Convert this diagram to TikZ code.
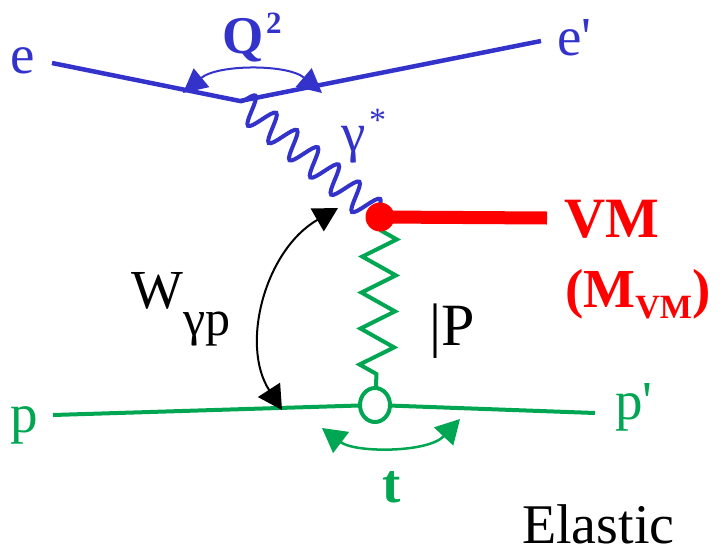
\documentclass[tikz,border=0pt]{standalone}
\usepackage{fontspec}
\newfontfamily\tm{Liberation Serif}
\usetikzlibrary{arrows.meta,decorations.pathmorphing}
\definecolor{eblue}{RGB}{51,51,204}
\definecolor{pgreen}{RGB}{0,166,81}
\definecolor{vmred}{RGB}{255,0,0}
\begin{document}
\begin{tikzpicture}[x=1pt,y=-1pt,
  lbl/.style={inner sep=0pt, anchor=base west, font=\tm\fontsize{55}{60}\selectfont},
  bld/.style={inner sep=0pt, anchor=base west, font=\tm\bfseries\fontsize{55}{60}\selectfont},
  sml/.style={inner sep=0pt, anchor=base west, font=\tm\bfseries\fontsize{31}{34}\selectfont},
  eline/.style={eblue, line width=4.5pt},
  pline/.style={pgreen, line width=4pt},
  bluearc/.style={eblue, line width=2pt, {Triangle[length=24pt,width=24pt]}-{Triangle[length=24pt,width=24pt]}},
  blackarc/.style={black, line width=2pt, {Triangle[length=24pt,width=26pt]}-{Triangle[length=24pt,width=26pt]}},
  greenarc/.style={pgreen, line width=2.5pt, {Triangle[length=24pt,width=26pt]}-{Triangle[length=24pt,width=26pt]}}]
\useasboundingbox (0,0) rectangle (727,554);
% vertices and ends
\coordinate (eA) at (52,63);
\coordinate (v1) at (240,101);
\coordinate (eB) at (541,41);
\coordinate (v2) at (380,217);
\coordinate (vmE) at (547,218);
\coordinate (v3) at (375,405);
\coordinate (pA) at (53,415);
\coordinate (pB) at (595,413);
\coordinate (zTop) at (380,230);
\coordinate (zBot) at (376,389);
% arc ends
\coordinate (qL) at (183,93);
\coordinate (qR) at (322,93);
\coordinate (wT) at (338,208);
\coordinate (wB) at (282,410);
\coordinate (tL) at (322,428);
\coordinate (tR) at (460,419);

% electron lines
\draw[eline] (eA) -- (v1) -- (eB);
% photon
\draw[eblue, line width=4pt, decorate, decoration={snake, segment length=27pt, amplitude=14pt}] (v1) -- (v2);
% proton line
\draw[pline] (pA) -- (v3) -- (pB);
% pomeron
\draw[pgreen, line width=4pt, decorate, decoration={zigzag, segment length=36pt, amplitude=17pt}] (zTop) -- (zBot);
\draw[pgreen, line width=4pt, fill=white] (v3) ellipse [x radius=15, y radius=17];
% vector meson
\draw[vmred, line width=13pt] (v2) -- (vmE);
\fill[vmred] (v2) circle [radius=14.5];

% arcs
\draw[bluearc] (qL) .. controls (218,64) and (288,64) .. (qR);
\draw[blackarc] (wT) .. controls (265,250) and (240,345) .. (wB);
\draw[greenarc] (tL) .. controls (355,453) and (428,453) .. (tR);

% labels
\node[lbl, eblue] (le) at (10,73) {e};
\node[lbl, eblue] (leprime) at (557,55) {e'};
\node[bld, eblue, font=\tm\bfseries\fontsize{53}{58}\selectfont] (lQ) at (222,53) {Q};
\node[sml, eblue] (lQ2) at (266,33) {2};
\node[lbl, eblue] (lgam) at (341,151) {γ};
\node[lbl, eblue, font=\tm\fontsize{34}{36}\selectfont] (lstar) at (369,131) {*};
\node[bld, vmred, font=\tm\bfseries\fontsize{57}{60}\selectfont] (lVM) at (564,237) {VM};
\node[bld, vmred] (lMVM) at (565,307) {(M\raisebox{-11pt}{\fontsize{34}{36}\selectfont VM})};
\node[lbl] (lW) at (131,308) {W};
\node[lbl, font=\tm\fontsize{50}{54}\selectfont] (lWsub) at (183,335) {γp};
\node[lbl, font=\tm\fontsize{60}{64}\selectfont] (lP) at (429,345) {|P};
\node[lbl, pgreen] (lp) at (10,432) {p};
\node[lbl, pgreen] (lpprime) at (615,419) {p'};
\node[bld, pgreen] (lt) at (382,502) {t};
\node[lbl, text depth=0pt, font=\tm\fontsize{56}{60}\selectfont] (lel) at (522,543) {Elastic};
\end{tikzpicture}
\end{document}
